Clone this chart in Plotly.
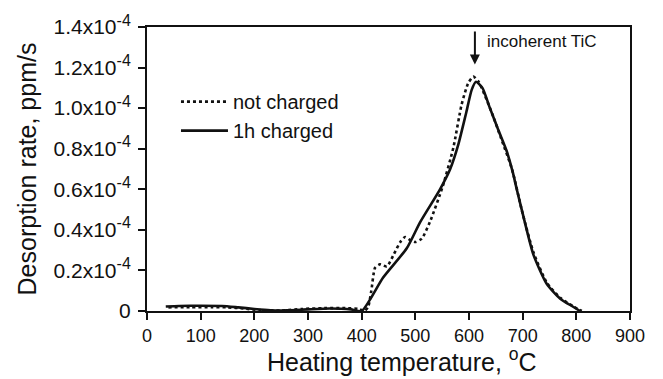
import plotly.graph_objects as go

# Thermal desorption spectra (rate in units of 1e-4 ppm/s)
temp_nc = [40, 80, 120, 150, 180, 210, 250, 290, 330, 370, 395, 405, 412, 418, 425, 434, 447,
           460, 472, 481, 490, 500, 512, 527, 551, 571, 586, 598, 608, 618, 630, 645, 660,
           680, 700, 720, 745, 770, 795, 810]
rate_nc = [0.018, 0.019, 0.019, 0.018, 0.012, 0.005, 0.002, 0.010, 0.014, 0.014, 0.010, 0.0,
           0.02, 0.10, 0.213, 0.23, 0.22, 0.28, 0.34, 0.365, 0.35, 0.34, 0.357, 0.438, 0.614,
           0.807, 1.015, 1.12, 1.156, 1.13, 1.06, 0.96, 0.85, 0.70, 0.48, 0.29, 0.14, 0.065,
           0.022, 0.0]

temp_1h = [35, 60, 100, 140, 170, 200, 230, 260, 300, 340, 380, 400, 440, 484, 509, 546, 565,
           580, 595, 605, 613, 625, 639, 655, 670, 682, 689, 701, 720, 745, 770, 794, 807]
rate_1h = [0.022, 0.025, 0.026, 0.025, 0.018, 0.010, 0.004, 0.003, 0.008, 0.012, 0.008, 0.0,
           0.165, 0.309, 0.438, 0.60, 0.70, 0.82, 0.98, 1.09, 1.13, 1.10, 1.0, 0.89, 0.79,
           0.68, 0.60, 0.47, 0.278, 0.133, 0.061, 0.021, 0.0]

y_ticks = [0, 0.2, 0.4, 0.6, 0.8, 1.0, 1.2, 1.4]
y_ticktext = ["0"] + [
    f"{v:.1f}x10<sup><span style='font-size:16px'>-4</span></sup>" for v in y_ticks[1:]
]
x_ticks = list(range(0, 901, 100))

FONT = "Liberation Sans, Arial, sans-serif"

fig = go.Figure()
fig.add_trace(go.Scatter(x=temp_nc, y=rate_nc, mode="lines", name="not charged",
                         line=dict(color="#111", width=2.6, dash="dot", shape="spline",
                                   smoothing=0.6)))
fig.add_trace(go.Scatter(x=temp_1h, y=rate_1h, mode="lines", name="1h charged",
                         line=dict(color="#111", width=2.6, shape="spline", smoothing=0.6)))

# marker arrow for the main desorption peak
fig.add_annotation(x=611, y=1.215, xref="x", yref="y", ax=611, ay=1.385, axref="x", ayref="y",
                   showarrow=True, arrowhead=2, arrowsize=1, arrowwidth=2, arrowcolor="#111",
                   text="", standoff=0)
fig.add_annotation(x=630, y=1.33, xref="x", yref="y", text="incoherent TiC", showarrow=False,
                   xanchor="left", yanchor="middle", font=dict(size=17, color="#111", family=FONT))

# x-axis title, set slightly right of centre
fig.add_annotation(x=0.5, y=0, xref="paper", yref="paper", xshift=13, yshift=-49,
                   text="Heating temperature, <sup>o</sup>C", showarrow=False,
                   xanchor="center", yanchor="middle", font=dict(size=25, color="#111", family=FONT))

fig.update_layout(
    width=663, height=379,
    margin=dict(l=147, r=33, t=20, b=68),
    paper_bgcolor="white", plot_bgcolor="white",
    font=dict(family=FONT, color="#111", size=18),
    showlegend=True,
    legend=dict(x=0.06, y=0.806, xanchor="left", yanchor="top", bgcolor="rgba(0,0,0,0)",
                font=dict(size=20), tracegroupgap=0, itemwidth=47),
    xaxis=dict(range=[0, 900], tickvals=x_ticks, ticks="outside", ticklen=7, tickwidth=2,
               tickcolor="#111", showline=True, linewidth=2, linecolor="#111", mirror=True,
               showgrid=False, zeroline=False, tickfont=dict(size=18)),
    yaxis=dict(range=[0, 1.4], tickvals=y_ticks, ticktext=y_ticktext, ticks="outside",
               ticklen=7, tickwidth=2, tickcolor="#111", showline=True, linewidth=2,
               linecolor="#111", mirror=True, showgrid=False, zeroline=False,
               tickfont=dict(size=21), ticklabelstandoff=3,
               title=dict(text="Desorption rate, ppm/s", font=dict(size=25), standoff=10)),
)

fig.write_html("out.html")
